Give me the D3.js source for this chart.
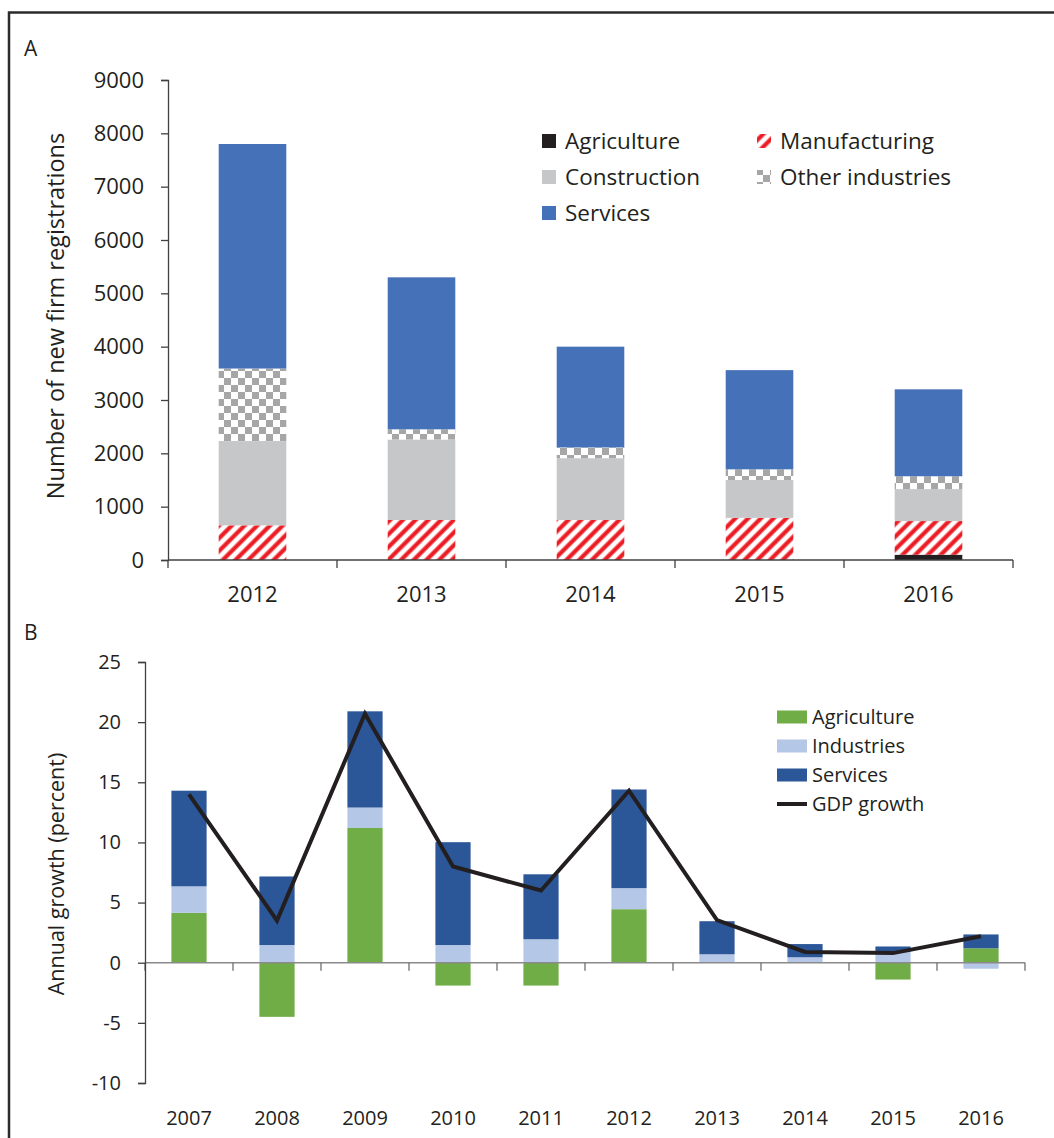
<!DOCTYPE html>
<html><head><meta charset="utf-8">
<script src="https://cdn.jsdelivr.net/npm/d3@7/dist/d3.min.js"></script>
<style>
html,body{margin:0;padding:0;background:#fff;}
text{font-family:"Open Sans",sans-serif;fill:#231f20;}
</style></head>
<body>
<svg id="chart" width="1054" height="1138"></svg>
<script>
// ---------- Panel A data ----------
const yearsA = ["2012","2013","2014","2015","2016"];
const agricultureA = [0, 0, 0, 0, 100];
const manufacturingA = [650, 750, 750, 790, 630];
const constructionA = [1580, 1510, 1160, 710, 600];
const otherIndustriesA = [1360, 190, 200, 200, 240];
const servicesA = [4210, 2850, 1890, 1860, 1630];
const ticksA = [0,1000,2000,3000,4000,5000,6000,7000,8000,9000];

// ---------- Panel B data ----------
const yearsB = ["2007","2008","2009","2010","2011","2012","2013","2014","2015","2016"];
const agricultureB = [4.15, -4.5, 11.2, -1.9, -1.9, 4.45, 0, 0, -1.4, 1.2];
const industriesB = [2.2, 1.47, 1.7, 1.47, 1.95, 1.75, 0.7, 0.45, 0.9, -0.5];
const servicesB = [7.95, 5.7, 8.0, 8.55, 5.4, 8.2, 2.75, 1.1, 0.45, 1.15];
const gdpGrowth = [14.0, 3.5, 20.7, 8.0, 6.0, 14.3, 3.55, 0.9, 0.8, 2.2];
const ticksB = [-10,-5,0,5,10,15,20,25];

const svg = d3.select("#chart");
const defs = svg.append("defs");

// patterns
const pm = defs.append("pattern").attr("id","mfg").attr("patternUnits","userSpaceOnUse")
  .attr("width",9).attr("height",9).attr("patternTransform","rotate(45)");
pm.append("rect").attr("width",9).attr("height",9).attr("fill","#fff");
pm.append("line").attr("x1",4.5).attr("x2",4.5).attr("y1",-1).attr("y2",10)
  .attr("stroke","#ec1c24").attr("stroke-width",4.2);

const pc = defs.append("pattern").attr("id","chk").attr("patternUnits","userSpaceOnUse")
  .attr("width",14).attr("height",14);
pc.append("rect").attr("width",14).attr("height",14).attr("fill","#fff");
pc.append("rect").attr("width",7).attr("height",7).attr("fill","#a6a6a6");
pc.append("rect").attr("x",7).attr("y",7).attr("width",7).attr("height",7).attr("fill","#a6a6a6");

// frame
svg.append("path").attr("d","M9,1140 L9,12.5 L1060,12.5").attr("fill","none")
  .attr("stroke","#2b2b2b").attr("stroke-width",2.5);

// ================= Panel A =================
const keysA = ["agri","mfg","cons","other","serv"];
const fillsA = {agri:"#231f20", mfg:"url(#mfg)", cons:"#c6c7c9", other:"url(#chk)", serv:"#4571b8"};
const namesA = {agri:"Agriculture", mfg:"Manufacturing", cons:"Construction", other:"Other industries", serv:"Services"};
const rowsA = yearsA.map((y,i)=>({year:y, agri:agricultureA[i], mfg:manufacturingA[i], cons:constructionA[i], other:otherIndustriesA[i], serv:servicesA[i]}));

const xA = d3.scaleBand().domain(yearsA).range([168,1013]).paddingInner(0.6).paddingOuter(0.3);
const yA = d3.scaleLinear().domain([0,9000]).range([560,80]);

const stackA = d3.stack().keys(keysA)(rowsA);
const gA = svg.append("g");
gA.selectAll("g.s").data(stackA).join("g").attr("class","s")
  .attr("fill", d=>fillsA[d.key])
  .selectAll("rect").data(d=>d).join("rect")
  .attr("x", d=>xA(d.data.year)).attr("width", xA.bandwidth())
  .attr("y", d=>yA(d[1])).attr("height", d=>Math.max(0,yA(d[0])-yA(d[1])));

// y axis A
const axA = svg.append("g").attr("transform","translate(168,0)")
  .call(d3.axisLeft(yA).tickValues(ticksA).tickSize(7).tickPadding(17).tickFormat(d=>String(d)));
axA.select(".domain").attr("stroke","#404040").attr("stroke-width",1.3);
axA.selectAll(".tick line").attr("stroke","#404040").attr("stroke-width",1.3);
axA.selectAll(".tick text").attr("font-size",22).attr("font-family","Open Sans").attr("fill","#231f20");

// x axis A
const offA = (xA.step()-xA.bandwidth())/2;
svg.append("line").attr("x1",168).attr("x2",1013).attr("y1",yA(0)).attr("y2",yA(0))
  .attr("stroke","#404040").attr("stroke-width",1.3);
const bA = yearsA.map(y=>xA(y)-offA).concat([xA(yearsA[yearsA.length-1])+xA.bandwidth()+offA]);
svg.selectAll("line.tA").data(bA).join("line").attr("class","tA")
  .attr("x1",d=>d).attr("x2",d=>d).attr("y1",yA(0)).attr("y2",yA(0)+8)
  .attr("stroke","#404040").attr("stroke-width",1.3);
svg.selectAll("text.xA").data(yearsA).join("text").attr("class","xA")
  .attr("x",d=>xA(d)+xA.bandwidth()/2).attr("y",602).attr("text-anchor","middle")
  .attr("font-size",22).text(d=>d);

svg.append("text").attr("transform","translate(64,316) rotate(-90)").attr("text-anchor","middle")
  .attr("font-size",23.5).text("Number of new firm registrations");
svg.append("text").attr("x",24).attr("y",56).style("font-size","21px").text("A");

// legend A
const legA = [
  {k:"agri", x:542, y:141},{k:"mfg", x:757, y:141},
  {k:"cons", x:542, y:177},{k:"other", x:757, y:177},
  {k:"serv", x:542, y:213}];
const lgA = svg.append("g").selectAll("g").data(legA).join("g");
lgA.append("rect").attr("x",d=>d.x).attr("y",d=>d.y-7).attr("width",14).attr("height",14)
  .attr("fill",d=>fillsA[d.k]);
lgA.append("text").attr("x",d=>d.x+23).attr("y",d=>d.y+8).attr("font-size",22.5).text(d=>namesA[d.k]);

// ================= Panel B =================
const keysB = ["agri","ind","serv"];
const fillsB = {agri:"#70ad47", ind:"#b4c7e7", serv:"#2b5697"};
const rowsB = yearsB.map((y,i)=>({year:y, agri:agricultureB[i], ind:industriesB[i], serv:servicesB[i], gdp:gdpGrowth[i]}));
const xB = d3.scaleBand().domain(yearsB).range([145,1025]).paddingInner(0.6).paddingOuter(0.3);
const yB = d3.scaleLinear().domain([-10,25]).range([1083,662]);

const stackB = d3.stack().keys(keysB).offset(d3.stackOffsetDiverging)(rowsB);
svg.append("g").selectAll("g").data(stackB).join("g").attr("fill",d=>fillsB[d.key])
  .selectAll("rect").data(d=>d).join("rect")
  .attr("x",d=>xB(d.data.year)).attr("width",xB.bandwidth())
  .attr("y",d=>yB(Math.max(d[0],d[1]))).attr("height",d=>Math.abs(yB(d[0])-yB(d[1])));

// x axis B (zero line)
svg.append("line").attr("x1",145).attr("x2",1025).attr("y1",yB(0)).attr("y2",yB(0))
  .attr("stroke","#8a8a8a").attr("stroke-width",1.5);
const offB = (xB.step()-xB.bandwidth())/2;
const bB = yearsB.map(y=>xB(y)-offB).concat([xB(yearsB[yearsB.length-1])+xB.bandwidth()+offB]);
svg.selectAll("line.tB").data(bB).join("line").attr("class","tB")
  .attr("x1",d=>d).attr("x2",d=>d).attr("y1",yB(0)).attr("y2",yB(0)+8)
  .attr("stroke","#6e6e6e").attr("stroke-width",1.3);

// GDP line
const line = d3.line().x(d=>xB(d.year)+xB.bandwidth()/2).y(d=>yB(d.gdp));
svg.append("path").datum(rowsB).attr("d",line).attr("fill","none")
  .attr("stroke","#231f20").attr("stroke-width",4).attr("stroke-linejoin","miter");

// y axis B
const axB = svg.append("g").attr("transform","translate(145,0)")
  .call(d3.axisLeft(yB).tickValues(ticksB).tickSize(7).tickPadding(17).tickFormat(d=>String(d)));
axB.select(".domain").attr("stroke","#404040").attr("stroke-width",1.3);
axB.selectAll(".tick line").attr("stroke","#404040").attr("stroke-width",1.3);
axB.selectAll(".tick text").attr("font-size",20).attr("font-family","Open Sans").attr("fill","#231f20");

svg.selectAll("text.xB").data(yearsB).join("text").attr("class","xB")
  .attr("x",d=>xB(d)+xB.bandwidth()/2).attr("y",1125).attr("text-anchor","middle")
  .attr("font-size",20).text(d=>d);

svg.append("text").attr("transform","translate(64,874) rotate(-90)").attr("text-anchor","middle")
  .attr("font-size",21.5).text("Annual growth (percent)");
svg.append("text").attr("x",24).attr("y",640).style("font-size","21px").text("B");

// legend B
const legB = [{k:"agri",t:"Agriculture"},{k:"ind",t:"Industries"},{k:"serv",t:"Services"},{k:"gdp",t:"GDP growth"}];
const lgB = svg.append("g").selectAll("g").data(legB).join("g")
  .attr("transform",(d,i)=>`translate(777,${717+i*29})`);
lgB.filter(d=>d.k!=="gdp").append("rect").attr("x",0).attr("y",-6.5).attr("width",30).attr("height",13)
  .attr("fill",d=>fillsB[d.k]);
lgB.filter(d=>d.k==="gdp").append("line").attr("x1",0).attr("x2",30).attr("y1",0).attr("y2",0)
  .attr("stroke","#231f20").attr("stroke-width",4);
lgB.append("text").attr("x",35).attr("y",7).attr("font-size",20).text(d=>d.t);
</script>
</body></html>
